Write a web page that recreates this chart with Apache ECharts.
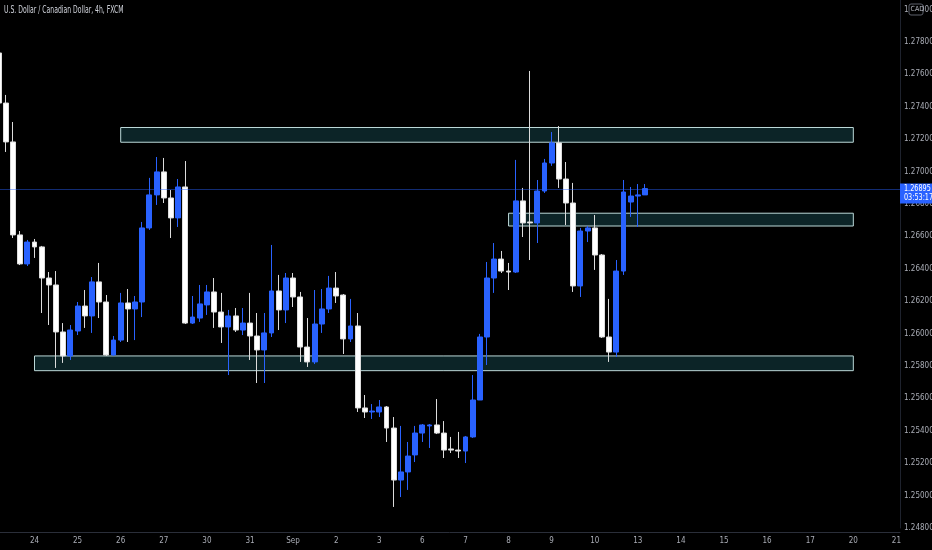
<!DOCTYPE html>
<html>
<head>
<meta charset="utf-8">
<style>
html,body{margin:0;padding:0;background:#000;}
#chart{width:932px;height:550px;}
</style>
<script src="https://cdn.jsdelivr.net/npm/echarts/dist/echarts.min.js"></script>
</head>
<body>
<div id="chart"></div>
<script>
// ---- data (USD/CAD 4h, FXCM) ----
const titleText = 'U.S. Dollar / Canadian Dollar, 4h, FXCM';
const dayLabels = ['23','24','25','26','27','30','31','Sep','2','3','6','7','8','9','10','13','14','15','16','17','20','21'];
const candlesPerDay = 6;
const firstSlot = 1;      // first visible 4h slot of the first day
const slotCount = 126;    // slots shown on the time axis

const openP = [1.27732,1.27423,1.27183,1.26609,1.26430,1.26565,1.26535,1.26343,1.26300,1.26010,
  1.25862,1.26016,1.26170,1.26109,1.26319,1.26195,1.25868,1.25960,1.26189,1.26152,
  1.26195,1.26652,1.26856,1.26998,1.26837,1.26714,1.26905,1.26065,1.26096,1.26177,
  1.26257,1.26133,1.26041,1.26109,1.26022,1.26065,1.25985,1.25899,1.26004,1.26263,
  1.26146,1.26343,1.26226,1.25917,1.25825,1.26059,1.26152,1.26281,1.26238,1.25967,
  1.26047,1.25541,1.25516,1.25516,1.25547,1.25417,1.25096,1.25146,1.25251,1.25386,
  1.25430,1.25436,1.25386,1.25288,1.25281,1.25275,1.25362,1.25590,1.25979,1.26343,
  1.26460,1.26386,1.26380,1.26819,1.26689,1.26683,1.26880,1.27053,1.27177,1.26954,
  1.26806,1.26294,1.26633,1.26652,1.26485,1.25979,1.25886,1.26386,1.26812,1.26849,
  1.26856];
const highP = [1.27740,1.27473,1.27306,1.26633,1.26578,1.26584,1.26541,1.26380,1.26386,1.26065,
  1.26053,1.26195,1.26269,1.26349,1.26436,1.26238,1.25985,1.26251,1.26275,1.26232,
  1.26689,1.26961,1.27090,1.27084,1.26886,1.26954,1.27065,1.26232,1.26300,1.26300,
  1.26343,1.26251,1.26146,1.26158,1.26158,1.26251,1.26127,1.26127,1.26547,1.26362,
  1.26374,1.26374,1.26257,1.26096,1.26269,1.26275,1.26356,1.26380,1.26244,1.26214,
  1.26127,1.25621,1.25565,1.25590,1.25553,1.25485,1.25430,1.25331,1.25430,1.25442,
  1.25442,1.25596,1.25460,1.25362,1.25393,1.25368,1.25744,1.25998,1.26442,1.26559,
  1.26510,1.26436,1.27072,1.26899,1.27621,1.26948,1.27078,1.27244,1.27281,1.27059,
  1.26930,1.26652,1.26664,1.26732,1.26491,1.26214,1.26454,1.26948,1.26905,1.26923,
  1.26923];
const lowP = [1.27420,1.27121,1.26590,1.26423,1.26417,1.26467,1.26127,1.26053,1.25788,1.25819,
  1.25837,1.25991,1.26035,1.26004,1.26096,1.25862,1.25862,1.25948,1.25948,1.25960,
  1.26102,1.26640,1.26794,1.26806,1.26590,1.26658,1.26059,1.26059,1.26072,1.26115,
  1.26035,1.25942,1.25744,1.26010,1.25991,1.25837,1.25695,1.25695,1.25979,1.26022,
  1.26065,1.26164,1.25825,1.25794,1.25812,1.26004,1.26127,1.26189,1.25874,1.25948,
  1.25516,1.25479,1.25473,1.25485,1.25331,1.24930,1.24991,1.25035,1.25207,1.25331,
  1.25294,1.25380,1.25232,1.25263,1.25232,1.25201,1.25356,1.25590,1.25806,1.26251,
  1.26374,1.26269,1.26374,1.26596,1.26454,1.26559,1.26868,1.27035,1.26899,1.26670,
  1.26257,1.26226,1.26565,1.26393,1.25973,1.25825,1.25856,1.26362,1.26720,1.26658,
  1.26856];
const closeP = [1.27423,1.27183,1.26609,1.26430,1.26565,1.26535,1.26343,1.26300,1.26010,1.25862,
  1.26022,1.26170,1.26109,1.26319,1.26195,1.25868,1.25960,1.26189,1.26152,1.26195,
  1.26652,1.26856,1.26998,1.26837,1.26714,1.26905,1.26065,1.26102,1.26183,1.26257,
  1.26133,1.26041,1.26109,1.26022,1.26065,1.25985,1.25899,1.26004,1.26263,1.26146,
  1.26343,1.26226,1.25917,1.25825,1.26059,1.26152,1.26281,1.26232,1.25967,1.26047,
  1.25541,1.25516,1.25522,1.25547,1.25417,1.25096,1.25146,1.25244,1.25386,1.25436,
  1.25436,1.25386,1.25281,1.25281,1.25275,1.25362,1.25590,1.25979,1.26343,1.26460,
  1.26386,1.26380,1.26819,1.26683,1.26683,1.26880,1.27053,1.27177,1.26954,1.26806,
  1.26294,1.26633,1.26652,1.26485,1.25979,1.25886,1.26386,1.26874,1.26849,1.26856,
  1.26895];

// supply / demand zones drawn on the chart
const zoneStart  = [17, 71, 5];
const zoneEnd    = [119, 119, 119];
const zoneTop    = [1.27272, 1.26743, 1.25862];
const zoneBottom = [1.27181, 1.26664, 1.25771];

const lastPrice = 1.26895;
const countdown = '03:53:17';
const currency = 'CAD';

const yMin = 1.248, yMax = 1.28059, yStep = 0.002;

// ---- build ----
const FONT = '"Liberation Sans Narrow","DejaVu Sans Condensed","Roboto",sans-serif';
const slots = [];
dayLabels.forEach(d => { for (let h = 0; h < candlesPerDay; h++) slots.push(d + ' ' + (h * 4)); });
const categories = slots.slice(firstSlot, firstSlot + slotCount);
const ohlc = openP.map((o, i) => [o, closeP[i], lowP[i], highP[i]]);
const zones = zoneStart.map((s, i) => [
  { xAxis: s, yAxis: zoneTop[i] },
  { xAxis: zoneEnd[i], yAxis: zoneBottom[i] }
]);

const UP = '#2962ff', DOWN = '#ffffff';
const GRID_RIGHT = 32;
const chart = echarts.init(document.getElementById('chart'));
chart.setOption({
  backgroundColor: '#000000',
  animation: false,
  textStyle: { fontFamily: FONT },
  grid: { left: -5, right: GRID_RIGHT, top: 0, bottom: 22, containLabel: false, outerBoundsMode: 'none' },
  xAxis: {
    type: 'category',
    data: categories,
    boundaryGap: true,
    offset: 4,
    axisLine: { show: true, lineStyle: { color: '#2a2e39', width: 1 } },
    axisTick: { show: false },
    splitLine: { show: false },
    axisLabel: {
      color: '#a9acb5', fontSize: 8, fontFamily: FONT, margin: 5,
      interval: (idx, val) => val.endsWith(' 0'),
      formatter: (val) => val.split(' ')[0]
    }
  },
  yAxis: {
    type: 'value',
    position: 'right',
    min: yMin, max: yMax, interval: yStep,
    scale: true,
    axisLine: { show: true, lineStyle: { color: '#1e222d' } },
    axisTick: { show: false },
    splitLine: { show: false },
    axisLabel: {
      color: '#a9acb5', fontSize: 8, fontFamily: FONT, margin: 4,
      showMaxLabel: false,
      formatter: v => v.toFixed(5)
    }
  },
  series: [{
    type: 'candlestick',
    data: ohlc,
    barWidth: '75%',
    itemStyle: {
      color: UP, color0: DOWN,
      borderColor: UP, borderColor0: '#dcdcdc', borderWidth: 1
    },
    markArea: {
      silent: true,
      itemStyle: { color: '#0c2427', borderColor: '#bcd8d8', borderWidth: 1 },
      data: zones
    }
  }]
});

const py = chart.convertToPixel({ yAxisIndex: 0 }, lastPrice);
const gridRight = chart.getWidth() - GRID_RIGHT;
chart.setOption({
  graphic: [
    { type: 'text', left: 4, top: 5, scaleX: 0.68, style: { text: titleText, fill: '#d1d4dc', font: '10px ' + FONT } },
    { type: 'line', shape: { x1: 0, y1: Math.round(py) + 0.5, x2: gridRight, y2: Math.round(py) + 0.5 }, style: { stroke: 'rgba(41,98,255,0.45)', lineWidth: 1 }, z: 50 },
    { type: 'rect', shape: { x: gridRight, y: py - 5, width: 33, height: 20 }, style: { fill: UP }, z: 100 },
    { type: 'text', x: gridRight + 4, y: py - 4.5, scaleX: 0.8, style: { text: lastPrice.toFixed(5), fill: '#ffffff', font: '9px ' + FONT }, z: 101 },
    { type: 'text', x: gridRight + 4, y: py + 5, scaleX: 0.8, style: { text: countdown, fill: '#ffffff', font: '9px ' + FONT }, z: 101 },
    { type: 'rect', shape: { x: 909, y: 4, width: 14, height: 11, r: 2 }, style: { fill: '#000', stroke: '#5d606b', lineWidth: 1 }, z: 100 },
    { type: 'text', x: 910.5, y: 6, style: { text: currency, fill: '#b2b5be', font: '7px ' + FONT }, z: 101 }
  ]
});
</script>
</body>
</html>
